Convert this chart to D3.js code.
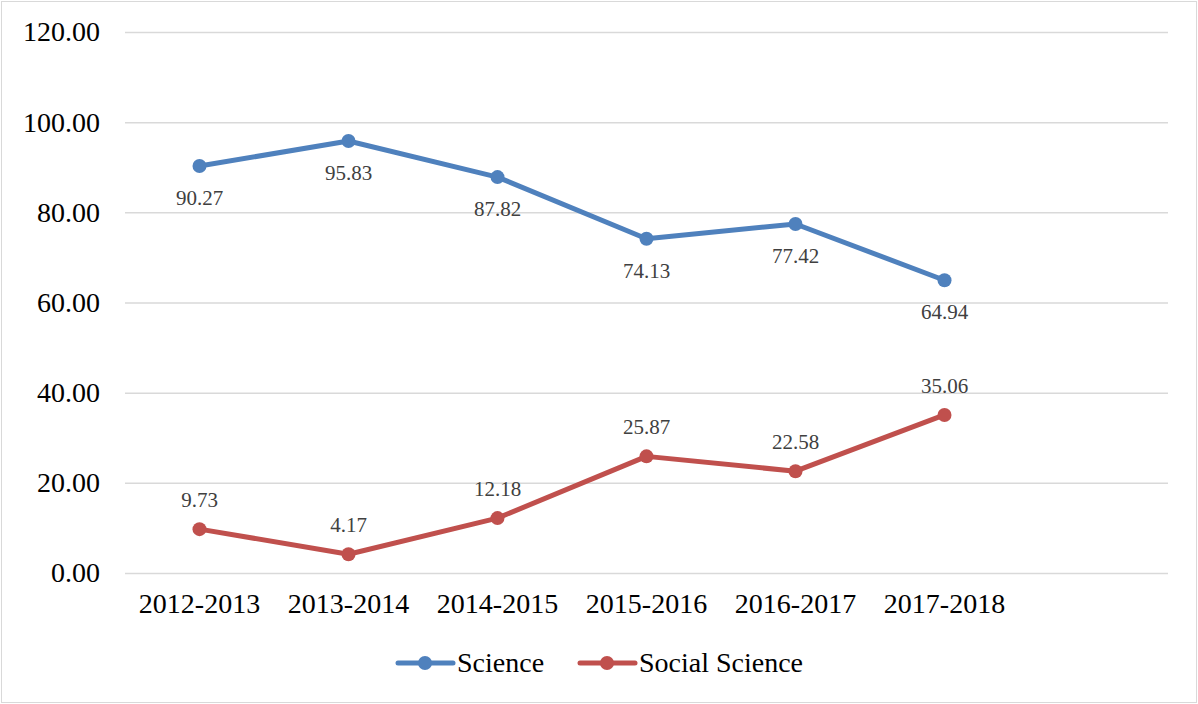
<!DOCTYPE html>
<html>
<head>
<meta charset="utf-8">
<script src="https://cdn.jsdelivr.net/npm/d3@7"></script>
<style>
  body { margin: 0; background: #fff; }
</style>
</head>
<body>
<svg width="1198" height="704"></svg>
<script>
const years = ["2012-2013", "2013-2014", "2014-2015", "2015-2016", "2016-2017", "2017-2018"];
const science = [90.27, 95.83, 87.82, 74.13, 77.42, 64.94];
const socialScience = [9.73, 4.17, 12.18, 25.87, 22.58, 35.06];
const yTicks = [0, 20, 40, 60, 80, 100, 120];

const FONT = '"Liberation Serif"';
const svg = d3.select("svg");
const margin = { top: 32, right: 30, bottom: 131, left: 125 };
const width = 1198 - margin.left - margin.right;
const height = 704 - margin.top - margin.bottom;

// chart border
svg.append("rect")
  .attr("x", 1.5).attr("y", 1.5)
  .attr("width", 1195).attr("height", 701)
  .attr("fill", "#fff")
  .attr("stroke", "#d9d9d9");

const g = svg.append("g").attr("transform", `translate(${margin.left},${margin.top})`);

// one empty slot at the end, as in the original
const x = d3.scaleBand()
  .domain([...years, ""])
  .range([0, width]);

const y = d3.scaleLinear()
  .domain([0, 120])
  .range([height, 0]);

// gridlines
g.append("g")
  .call(d3.axisLeft(y).tickValues(yTicks).tickSize(-width).tickFormat(""))
  .call(a => a.select(".domain").remove())
  .selectAll("line")
  .attr("stroke", "#d9d9d9")
  .attr("stroke-width", 1.5);

// y axis labels
g.append("g")
  .call(d3.axisLeft(y).tickValues(yTicks).tickSize(0).tickPadding(25).tickFormat(d3.format(".2f")))
  .call(a => a.select(".domain").remove())
  .selectAll("text")
  .attr("fill", "#000")
  .style("font-family", FONT)
  .style("font-size", "28px");

// x axis labels
g.append("g")
  .attr("transform", `translate(0,${height})`)
  .call(d3.axisBottom(x).tickSize(0).tickPadding(20))
  .call(a => a.select(".domain").remove())
  .selectAll("text")
  .attr("fill", "#000")
  .style("font-family", FONT)
  .style("font-size", "28px");

const series = [
  { name: "Science", values: science, color: "#4f81bd", labelDy: 39 },
  { name: "Social Science", values: socialScience, color: "#c0504d", labelDy: -22 }
];

const line = d3.line()
  .x((d, i) => x(years[i]) + x.bandwidth() / 2)
  .y(d => y(d));

series.forEach(s => {
  g.append("path")
    .datum(s.values)
    .attr("fill", "none")
    .attr("stroke", s.color)
    .attr("stroke-width", 5)
    .attr("stroke-linejoin", "round")
    .attr("d", line);

  g.selectAll(null)
    .data(s.values)
    .enter().append("circle")
    .attr("cx", (d, i) => x(years[i]) + x.bandwidth() / 2)
    .attr("cy", d => y(d))
    .attr("r", 7)
    .attr("fill", s.color);

  g.selectAll(null)
    .data(s.values)
    .enter().append("text")
    .attr("x", (d, i) => x(years[i]) + x.bandwidth() / 2)
    .attr("y", d => y(d) + s.labelDy)
    .attr("text-anchor", "middle")
    .attr("fill", "#404040")
    .style("font-family", FONT)
    .style("font-size", "21px")
    .text(d => d3.format(".2f")(d));
});

// legend
const legendItems = [
  { name: "Science", color: "#4f81bd", x: 398 },
  { name: "Social Science", color: "#c0504d", x: 580 }
];
const legend = svg.append("g").attr("transform", "translate(0,663)");
legendItems.forEach(l => {
  legend.append("line")
    .attr("x1", l.x).attr("x2", l.x + 55)
    .attr("stroke", l.color)
    .attr("stroke-width", 5)
    .attr("stroke-linecap", "round");
  legend.append("circle")
    .attr("cx", l.x + 27).attr("r", 7)
    .attr("fill", l.color);
  legend.append("text")
    .attr("x", l.x + 59)
    .attr("dy", "0.33em")
    .attr("fill", "#000")
    .style("font-family", FONT)
    .style("font-size", "28px")
    .text(l.name);
});
</script>
</body>
</html>
